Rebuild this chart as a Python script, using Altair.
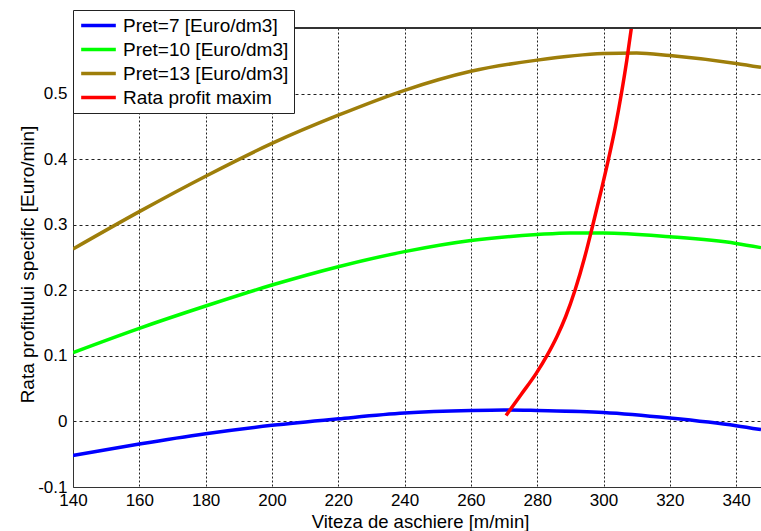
import altair as alt
import pandas as pd

# Cutting speed [m/min] and specific profit rate [Euro/min] for each price
x_p7 = [140, 160, 180, 200, 220, 240, 260, 270, 280, 300, 320, 340, 347.5]
y_p7 = [-0.052, -0.0344, -0.0187, -0.006, 0.004, 0.0128, 0.0167, 0.0175, 0.0167, 0.0137, 0.0052, -0.0065, -0.0125]

x_p10 = [140, 160, 180, 200, 220, 240, 260, 280, 290, 300, 320, 340, 347.5]
y_p10 = [0.105, 0.142, 0.176, 0.208, 0.236, 0.259, 0.276, 0.285, 0.2875, 0.2875, 0.2816, 0.2715, 0.265]

x_p13 = [140, 160, 180, 200, 220, 240, 260, 280, 300, 310, 320, 340, 347.5]
y_p13 = [0.263, 0.320, 0.374, 0.424, 0.467, 0.505, 0.534, 0.551, 0.561, 0.562, 0.558, 0.546, 0.540]

# Locus of the maximum profit rate
x_max = [270.6, 275.0, 279.8, 282.9, 286.0, 288.6, 291.4, 294.3, 296.8, 299.2, 301.5, 303.6, 305.4, 307.0, 308.4]
y_max = [0.009, 0.04, 0.074, 0.10, 0.13, 0.16, 0.20, 0.25, 0.30, 0.35, 0.40, 0.45, 0.50, 0.55, 0.60]

series_names = ["Pret=7 [Euro/dm3]", "Pret=10 [Euro/dm3]", "Pret=13 [Euro/dm3]", "Rata profit maxim"]
series_colors = ["#0000FF", "#00FF00", "#9E7E0A", "#FF0000"]

x_ticks = [140, 160, 180, 200, 220, 240, 260, 280, 300, 320, 340]
y_ticks = [-0.1, 0, 0.1, 0.2, 0.3, 0.4, 0.5]

frames = []
for i, (name, xs, ys) in enumerate(zip(series_names, [x_p7, x_p10, x_p13, x_max], [y_p7, y_p10, y_p13, y_max])):
    frames.append(pd.DataFrame({"serie": name, "ord": i, "v": xs, "r": ys}))
df = pd.concat(frames, ignore_index=True)

FONT = "Liberation Sans"
W, H = 688, 459

lines = alt.Chart(df).mark_line(strokeWidth=3.5, interpolate="monotone", clip=True).encode(
    x=alt.X(
        "v:Q",
        scale=alt.Scale(domain=[140, 347.5], nice=False, zero=False),
        axis=alt.Axis(
            values=x_ticks, title="Viteza de aschiere [m/min]", labelFlush=False,
            ticks=False, tickSize=0, labelPadding=5,
            grid=True, gridDash=[2, 2], gridColor="#222", gridOpacity=1, gridWidth=1,
            domainColor="#333", domainWidth=1,
            labelFont=FONT, labelFontSize=17, labelColor="black",
            titleFont=FONT, titleFontSize=18.5, titleFontWeight="normal", titleColor="black",
            titleBaseline="alphabetic", titleX=347, titleY=40,
        ),
    ),
    y=alt.Y(
        "r:Q",
        scale=alt.Scale(domain=[-0.1, 0.6], nice=False, zero=False),
        axis=alt.Axis(
            values=y_ticks, title="Rata profitului specific [Euro/min]",
            labelExpr="datum.value < 0 ? '-' + format(-datum.value, '.1f') : (datum.value == 0 ? '0' : format(datum.value, '.1f'))",
            ticks=False, tickSize=0, labelPadding=6,
            grid=True, gridDash=[3, 3], gridColor="#222", gridOpacity=1, gridWidth=1,
            domainColor="#333", domainWidth=1,
            labelFont=FONT, labelFontSize=17, labelColor="black",
            titleFont=FONT, titleFontSize=19, titleFontWeight="normal", titleColor="black",
            titleBaseline="alphabetic", titleX=-40, titleY=236,
        ),
    ),
    color=alt.Color(
        "serie:N",
        scale=alt.Scale(domain=series_names, range=series_colors),
        legend=alt.Legend(
            orient="none", legendX=0, legendY=-18, title=None,
            symbolType="M-2,0H2", symbolStrokeWidth=3.5, symbolSize=300,
            symbolOffset=10, labelOffset=14, labelLimit=0,
            labelFont=FONT, labelFontSize=19, labelColor="black",
            fillColor="white", strokeColor="#222", padding=5, rowPadding=3,
        ),
    ),
    order="ord:Q",
    detail="serie:N",
)

top_border = alt.Chart(df).mark_rule(color="#333", strokeWidth=1).encode(
    y=alt.value(0), x=alt.value(0), x2=alt.value(W)
)

chart = (
    alt.layer(lines, top_border)
    .properties(
        width=W, height=H,
        autosize=alt.AutoSizeParams(type="none"),
        padding={"left": 73, "top": 28, "right": 0, "bottom": 44},
        background="white",
    )
    .configure_view(stroke=None)
)

chart.save("out.html", embed_options={"renderer": "svg", "actions": False})
